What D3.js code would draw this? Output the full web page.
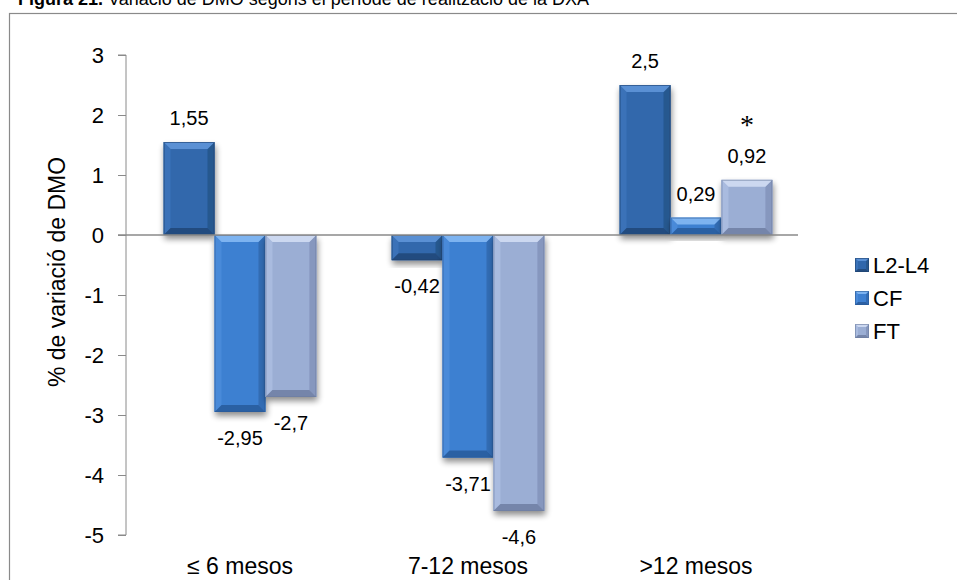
<!DOCTYPE html>
<html>
<head>
<meta charset="utf-8">
<script src="https://cdn.jsdelivr.net/npm/d3@7"></script>
<style>
  html, body { margin: 0; padding: 0; background: #fff; }
  svg { display: block; }
  text { font-family: "Liberation Sans", Arial, sans-serif; fill: #000; }
</style>
</head>
<body>
<svg id="chart" width="957" height="580"></svg>
<script>
// Data
const categories = ["≤ 6 mesos", "7-12 mesos", ">12 mesos"];
const seriesNames = ["L2-L4", "CF", "FT"];
const valuesL2L4 = [1.55, -0.42, 2.5];
const valuesCF = [-2.95, -3.71, 0.29];
const valuesFT = [-2.7, -4.6, 0.92];
const yTicks = [3, 2, 1, 0, -1, -2, -3, -4, -5];
const titleBold = "Figura 21.";
const titleRest = " Variació de DMO segons el període de realització de la DXA";
const yAxisTitle = "% de variació de DMO";
// significance mark: category index and series
const significance = { category: 2, series: "FT", mark: "*" };

const seriesValues = { "L2-L4": valuesL2L4, "CF": valuesCF, "FT": valuesFT };

// Bevelled fill palette per series
const palette = {
  "L2-L4": { base: "#3067AC", top: "#5A90D4", left: "#3A72B8", right: "#28588F", bottom: "#244C7F", edge: "#1E426F" },
  "CF":    { base: "#3E80D1", top: "#7DB3F0", left: "#4A8AD9", right: "#336CB4", bottom: "#2C60A3", edge: "#2A5A98" },
  "FT":    { base: "#9BAED4", top: "#CCD8F0", left: "#A9BBDF", right: "#8697BE", bottom: "#7585AA", edge: "#6D7DA0" }
};

const svg = d3.select("#chart");
const W = 957, H = 580;
const plot = { left: 126, right: 810, top: 55, bottom: 535 };

const defs = svg.append("defs");
const shadow = defs.append("filter").attr("id", "barShadow")
  .attr("x", "-20%").attr("y", "-20%").attr("width", "150%").attr("height", "150%");
shadow.append("feGaussianBlur").attr("in", "SourceAlpha").attr("stdDeviation", 3).attr("result", "blur");
shadow.append("feOffset").attr("in", "blur").attr("dx", 1).attr("dy", 4).attr("result", "off");
shadow.append("feComponentTransfer").attr("in", "off").attr("result", "shade")
  .append("feFuncA").attr("type", "linear").attr("slope", 0.45);
const merge = shadow.append("feMerge");
merge.append("feMergeNode").attr("in", "shade");
merge.append("feMergeNode").attr("in", "SourceGraphic");

// Outer frame
svg.append("rect")
  .attr("x", 9.5).attr("y", 13.5).attr("width", W + 20).attr("height", H + 20)
  .attr("fill", "none").attr("stroke", "#8a8a8a").attr("stroke-width", 1.2);

// Title (runs into the top edge of the page)
const title = svg.append("text").attr("x", 18).attr("y", 5).attr("font-size", 18);
title.append("tspan").attr("font-weight", "bold").text(titleBold);
title.append("tspan").text(titleRest);

// Scales
const x0 = d3.scaleBand().domain(categories).range([plot.left, plot.right]).paddingInner(0.33).paddingOuter(0.165);
const x1 = d3.scaleBand().domain(seriesNames).range([0, x0.bandwidth()]).padding(0);
const y = d3.scaleLinear().domain([-5, 3]).range([plot.bottom, plot.top]);

// Y axis
const yAxis = d3.axisLeft(y).tickValues(yTicks).tickSize(8).tickPadding(14).tickFormat(d => String(d));
const yg = svg.append("g").attr("transform", `translate(${plot.left},0)`).call(yAxis);
yg.select(".domain").attr("stroke", "#8a8a8a").attr("d", `M-8,${y(3)}H0V${y(-5)}H-8`);
yg.selectAll(".tick line").attr("stroke", "#8a8a8a");
yg.selectAll(".tick text").attr("font-size", 22).attr("font-family", "Liberation Sans, Arial, sans-serif").attr("fill", "#000");

// Y axis title
svg.append("text")
  .attr("transform", `translate(65,272) rotate(-90)`)
  .attr("text-anchor", "middle").attr("font-size", 23)
  .text(yAxisTitle);

// Bars
const rows = [];
categories.forEach((c, i) => {
  seriesNames.forEach(s => rows.push({ category: c, ci: i, series: s, value: seriesValues[s][i] }));
});

function bevelBar(g, x, y0, w, h, col, bevel) {
  const b = Math.min(bevel, h / 2, w / 2);
  g.append("rect").attr("x", x).attr("y", y0).attr("width", w).attr("height", h)
    .attr("fill", col.base);
  g.append("polygon").attr("fill", col.left)
    .attr("points", [[x, y0], [x + b, y0 + b], [x + b, y0 + h - b], [x, y0 + h]].join(" "));
  g.append("polygon").attr("fill", col.right)
    .attr("points", [[x + w, y0], [x + w - b, y0 + b], [x + w - b, y0 + h - b], [x + w, y0 + h]].join(" "));
  g.append("polygon").attr("fill", col.bottom)
    .attr("points", [[x, y0 + h], [x + w, y0 + h], [x + w - b, y0 + h - b], [x + b, y0 + h - b]].join(" "));
  g.append("polygon").attr("fill", col.top)
    .attr("points", [[x, y0], [x + w, y0], [x + w - b, y0 + b], [x + b, y0 + b]].join(" "));
  g.append("rect").attr("x", x + 0.5).attr("y", y0 + 0.5).attr("width", Math.max(0, w - 1)).attr("height", Math.max(0, h - 1))
    .attr("fill", "none").attr("stroke", col.edge).attr("stroke-opacity", 0.6).attr("stroke-width", 1);
}

const barsG = svg.append("g");
rows.forEach(r => {
  const bx = x0(r.category) + x1(r.series);
  const bw = x1.bandwidth();
  const top = y(Math.max(0, r.value));
  const h = Math.abs(y(r.value) - y(0));
  const g = barsG.append("g").attr("filter", "url(#barShadow)");
  bevelBar(g, bx, top, bw, h, palette[r.series], 7);
});

// Zero line drawn over the bars
svg.append("line")
  .attr("x1", plot.left - 8).attr("x2", plot.right - 12)
  .attr("y1", y(0)).attr("y2", y(0))
  .attr("stroke", "#8a8a8a").attr("stroke-width", 1.3);

// Value labels
const fmt = v => String(v).replace(".", ",");
svg.append("g").selectAll("text").data(rows).join("text")
  .attr("x", d => x0(d.category) + x1(d.series) + x1.bandwidth() / 2)
  .attr("y", d => d.value >= 0 ? y(d.value) - 24 + 7 : y(d.value) + 26 + 7)
  .attr("text-anchor", "middle").attr("font-size", 20)
  .text(d => fmt(d.value));

// Significance mark
const sigCat = categories[significance.category];
const sigVal = seriesValues[significance.series][significance.category];
svg.append("text")
  .attr("x", x0(sigCat) + x1(significance.series) + x1.bandwidth() / 2)
  .attr("y", y(sigVal) - 46)
  .attr("text-anchor", "middle").attr("font-size", 28)
  .style("font-family", "'Liberation Serif', 'DejaVu Serif', serif")
  .text(significance.mark);

// Category labels
svg.append("g").selectAll("text").data(categories).join("text")
  .attr("x", d => x0(d) + x0.bandwidth() / 2)
  .attr("y", 574)
  .attr("text-anchor", "middle").attr("font-size", 23)
  .text(d => d);

// Legend
const legend = svg.append("g");
seriesNames.forEach((s, i) => {
  const ly = 265 + i * 33;
  const g = legend.append("g");
  bevelBar(g, 855, ly - 7, 14, 14, palette[s], 3);
  legend.append("text").attr("x", 873).attr("y", ly + 8).attr("font-size", 22).text(s);
});
</script>
</body>
</html>
